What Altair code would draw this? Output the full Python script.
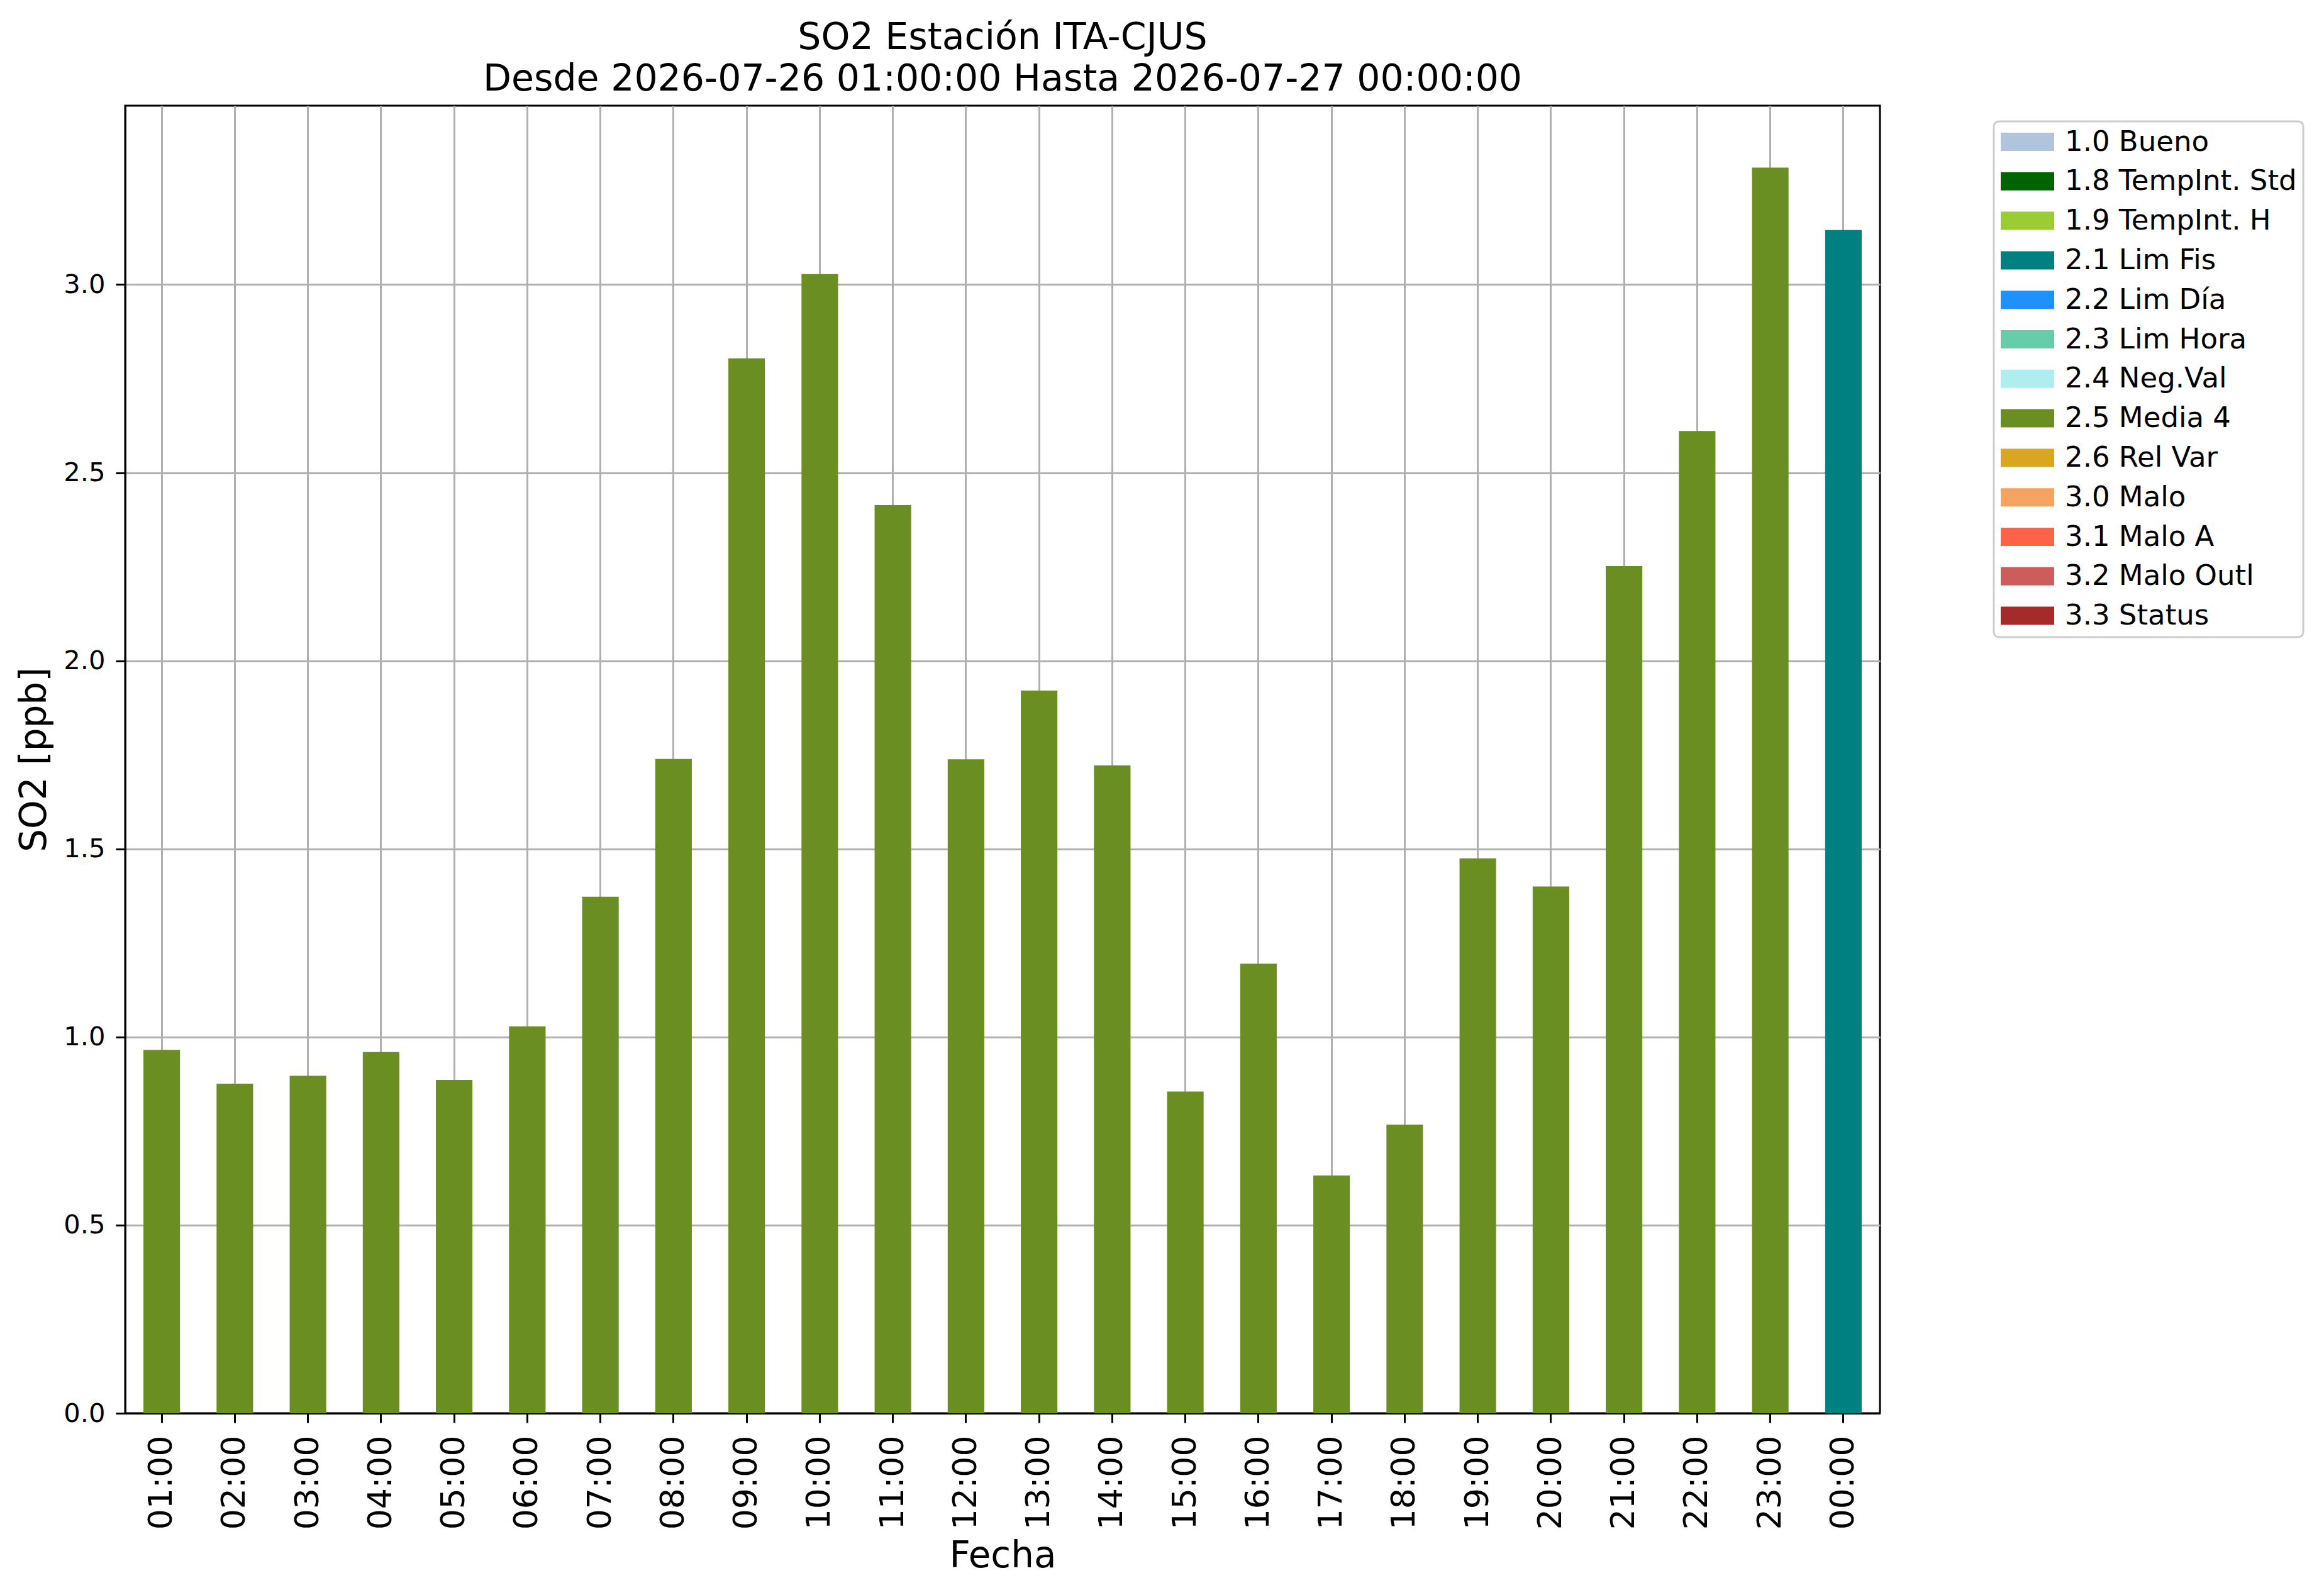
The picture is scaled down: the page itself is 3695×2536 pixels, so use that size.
import altair as alt
import pandas as pd

hours = ["01:00", "02:00", "03:00", "04:00", "05:00", "06:00", "07:00", "08:00",
         "09:00", "10:00", "11:00", "12:00", "13:00", "14:00", "15:00", "16:00",
         "17:00", "18:00", "19:00", "20:00", "21:00", "22:00", "23:00", "00:00"]
so2 = [0.966, 0.876, 0.897, 0.960, 0.886, 1.028, 1.373, 1.739,
       2.804, 3.028, 2.414, 1.738, 1.921, 1.722, 0.855, 1.195,
       0.632, 0.767, 1.475, 1.400, 2.252, 2.611, 3.311, 3.145]
flags = ["2.5 Media 4"] * 23 + ["2.1 Lim Fis"]

flag_names = ["1.0 Bueno", "1.8 TempInt. Std", "1.9 TempInt. H", "2.1 Lim Fis",
              "2.2 Lim Día", "2.3 Lim Hora", "2.4 Neg.Val", "2.5 Media 4",
              "2.6 Rel Var", "3.0 Malo", "3.1 Malo A", "3.2 Malo Outl", "3.3 Status"]
flag_colors = ["#B0C4DE", "#006400", "#9ACD32", "#008080", "#1E90FF", "#66CDAA",
               "#AFEEEE", "#6B8E23", "#DAA520", "#F4A460", "#FF6347", "#CD5C5C",
               "#A52A2A"]
y_ticks = [0.0, 0.5, 1.0, 1.5, 2.0, 2.5, 3.0]
title_lines = ["SO2 Estación ITA-CJUS",
               "Desde 2026-07-26 01:00:00 Hasta 2026-07-27 00:00:00"]

df = pd.DataFrame({"Fecha": hours, "SO2": so2, "Flag": flags})

FONT = "DejaVu Sans"

chart = alt.Chart(df).mark_bar().encode(
    x=alt.X("Fecha:N", sort=hours,
            scale=alt.Scale(paddingInner=0.5, paddingOuter=0.25),
            axis=alt.Axis(title="Fecha", labelAngle=-90, bandPosition=0.5,
                          labelFontSize=52, labelPadding=20, titlePadding=14)),
    y=alt.Y("SO2:Q",
            scale=alt.Scale(domain=[0, 3.4755], nice=False, zero=True),
            axis=alt.Axis(title="SO2 [ppb]", values=y_ticks, format=".1f",
                          labelFontSize=41.7, labelPadding=17, titlePadding=16)),
    color=alt.Color("Flag:N",
                    scale=alt.Scale(domain=flag_names, range=flag_colors),
                    legend=alt.Legend(
                        title=None, orient="none", legendX=2971, legendY=25,
                        strokeColor="#cccccc", fillColor="white",
                        cornerRadius=8, padding=10,
                        labelFont=FONT, labelFontSize=45, labelColor="black",
                        labelLimit=1000, labelOffset=58,
                        symbolType="M-1.483,-1L4.38,-1L4.38,1L-1.483,1Z",
                        symbolSize=841, symbolStrokeWidth=0, symbolOpacity=1,
                        rowPadding=16.8, values=flag_names)),
).properties(
    width=2790, height=2079,
    title=alt.TitleParams(text=title_lines, fontSize=58.5, font=FONT,
                          fontWeight="normal", color="black", anchor="middle",
                          frame="group", lineHeight=66, offset=12),
    autosize=alt.AutoSizeParams(type="none"),
    padding={"left": 191, "top": 160, "right": 690, "bottom": 280},
).configure_view(
    stroke="black", strokeWidth=3
).configure_legend(
    strokeWidth=3
).configure_axis(
    labelFont=FONT, titleFont=FONT, labelColor="black", titleColor="black",
    titleFontSize=58, titleFontWeight="normal",
    domain=True, domainColor="black", domainWidth=3,
    ticks=True, tickColor="black", tickSize=15, tickWidth=3,
    grid=True, gridColor="#b0b0b0", gridWidth=3, zindex=1,
)

chart.save("out.html", embed_options={"renderer": "svg", "actions": False})
